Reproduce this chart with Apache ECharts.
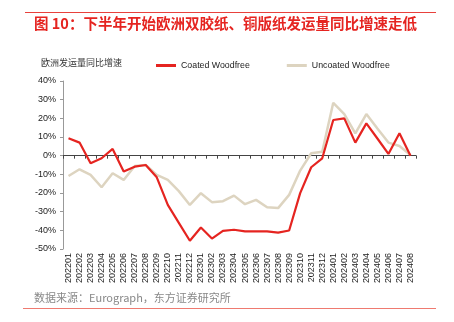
<!DOCTYPE html>
<html>
<head>
<meta charset="utf-8">
<script src="https://cdn.jsdelivr.net/npm/echarts@6/dist/echarts.min.js"></script>
<style>
html,body{margin:0;padding:0;background:#fff;}
#chart{width:454px;height:322px;}
</style>
</head>
<body>
<div id="chart"></div>
<script>
// Monthly categories 2022-01 .. 2024-08
const months = [
  '202201','202202','202203','202204','202205','202206','202207','202208',
  '202209','202210','202211','202212','202301','202302','202303','202304',
  '202305','202306','202307','202308','202309','202310','202311','202312',
  '202401','202402','202403','202404','202405','202406','202407','202408'
];
// YoY shipment growth, %
const coatedWoodfree = [
  9.3, 7.0, -4.1, -1.4, 3.6, -8.5, -5.9, -5.0,
  -11.6, -26.4, -36.0, -45.6, -38.5, -44.4, -40.3, -39.7,
  -40.6, -40.6, -40.6, -41.2, -40.1, -20.1, -6.2, -1.4,
  19.1, 20.0, 7.0, 17.3, 9.2, 0.9, 12.0, 0.0
];
const uncoatedWoodfree = [
  -10.9, -7.3, -10.3, -16.9, -9.4, -13.0, -5.5, -5.0,
  -10.3, -13.0, -19.0, -26.4, -20.1, -24.9, -24.4, -21.4,
  -26.0, -23.7, -27.6, -28.1, -21.0, -8.0, 1.3, 2.1,
  28.3, 22.3, 12.0, 22.3, 14.6, 7.0, 5.2, 0.4
];
const yTicks = { min: -50, max: 40, step: 10 };

const titleText = '图 10：下半年开始欧洲双胶纸、铜版纸发运量同比增速走低';
const axisTitle = '欧洲发运量同比增速';
const sourceText = '数据来源：Eurograph，东方证券研究所';

const RED = '#e52420';
const BEIGE = '#ddd4c0';
const FONT = '"Liberation Sans", Arial, sans-serif';

const chart = echarts.init(document.getElementById('chart'), null, { renderer: 'canvas' });
chart.setOption({
  animation: false,
  backgroundColor: '#fff',
  textStyle: { fontFamily: FONT },
  grid: { left: 63, right: 38, top: 81, bottom: 73, containLabel: false },
  legend: {
    data: ['Coated Woodfree', 'Uncoated Woodfree'],
    top: 56,
    left: 151,
    itemGap: 37,
    itemWidth: 20,
    itemHeight: 3,
    icon: 'rect',
    textStyle: { fontSize: 8.8, color: '#222', fontFamily: FONT }
  },
  xAxis: {
    type: 'category',
    data: months,
    boundaryGap: true,
    axisLine: { onZero: true, lineStyle: { color: '#444', width: 1 } },
    axisTick: { show: true, length: 3, lineStyle: { color: '#444' } },
    axisLabel: { rotate: 90, interval: 0, fontSize: 9, color: '#222', margin: 4, fontFamily: FONT },
    splitLine: { show: false }
  },
  yAxis: {
    type: 'value',
    min: yTicks.min,
    max: yTicks.max,
    interval: yTicks.step,
    axisLine: { show: true, lineStyle: { color: '#999', width: 1 } },
    axisTick: { show: true, length: 3, lineStyle: { color: '#999' } },
    axisLabel: { fontSize: 9, color: '#222', margin: 7, formatter: '{value}%', fontFamily: FONT },
    splitLine: { show: false }
  },
  series: [
    {
      name: 'Uncoated Woodfree',
      type: 'line',
      data: uncoatedWoodfree,
      symbol: 'none',
      lineStyle: { color: BEIGE, width: 2.5 },
      itemStyle: { color: BEIGE },
      z: 2
    },
    {
      name: 'Coated Woodfree',
      type: 'line',
      data: coatedWoodfree,
      symbol: 'none',
      lineStyle: { color: RED, width: 2.2 },
      itemStyle: { color: RED },
      z: 3
    }
  ],
  graphic: [
    { type: 'line', shape: { x1: 25, y1: 12.5, x2: 436, y2: 12.5 }, style: { stroke: '#e8413c', lineWidth: 1 } },
    { type: 'text', left: 34, top: 16, style: { text: titleText, fill: '#e52420', font: 'bold 14.5px "Noto Sans CJK SC", sans-serif' } },
    { type: 'text', left: 41, top: 58, style: { text: axisTitle, fill: '#333', font: '9px "Noto Sans CJK SC", sans-serif' } },
    { type: 'text', left: 34, top: 292, style: { text: sourceText, fill: '#888', font: '11px "Noto Sans CJK SC", sans-serif' } },
    { type: 'line', shape: { x1: 23, y1: 308.5, x2: 436, y2: 308.5 }, style: { stroke: '#ef7a70', lineWidth: 1.2 } }
  ]
});
</script>
</body>
</html>
